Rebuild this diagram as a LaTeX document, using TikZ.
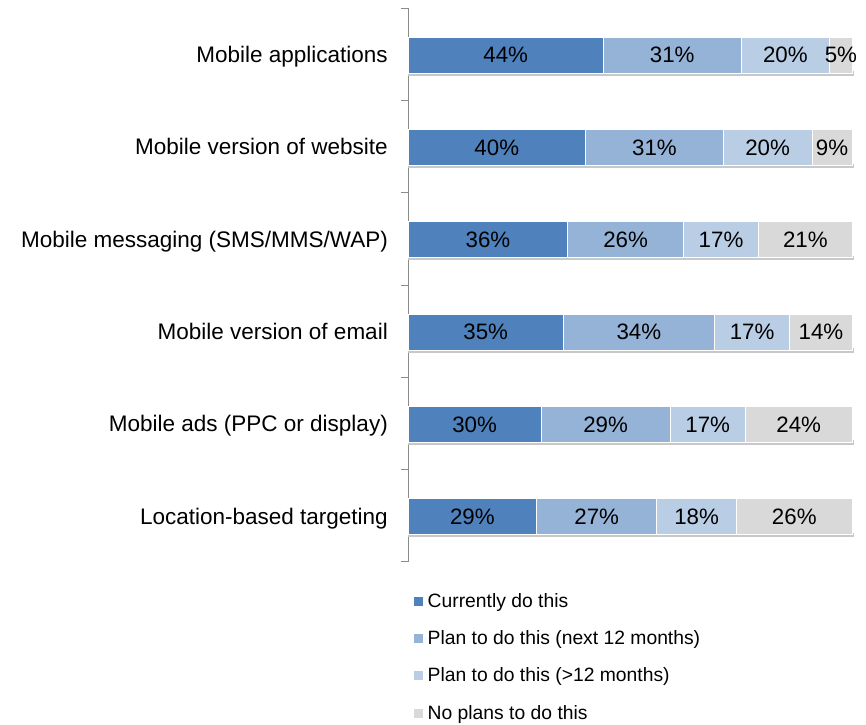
\documentclass[tikz,border=0pt]{standalone}
\usepackage{fontspec}
\setmainfont{Liberation Sans}
\definecolor{cA}{HTML}{4F81BD}
\definecolor{cB}{HTML}{95B3D7}
\definecolor{cC}{HTML}{B9CDE5}
\definecolor{cD}{HTML}{D9D9D9}
\definecolor{axisgray}{HTML}{8C8C8C}
\definecolor{shadowc}{HTML}{C8C8C8}
\tikzset{
  seg/.style={draw=white,line width=0.8pt},
  pct/.style={anchor=base,inner sep=0pt,font=\fontsize{22.3}{26}\selectfont,text=black},
  cat/.style={anchor=base east,inner sep=0pt,font=\fontsize{22.5}{26}\selectfont,text=black},
  leg/.style={anchor=base west,inner sep=0pt,font=\fontsize{19.3}{23}\selectfont,text=black},
  legbox/.style={minimum size=9pt,inner sep=0pt,draw=none},
  axisline/.style={draw=axisgray,line width=1pt},
}
\newcommand\chartrow[6]{%
  \pgfmathsetmacro\yc{8+92.33*(#1-0.5)+1}
  \pgfmathsetmacro\xa{408}
  \pgfmathsetmacro\xb{\xa+4.44*#3}
  \pgfmathsetmacro\xc{\xb+4.44*#4}
  \pgfmathsetmacro\xd{\xc+4.44*#5}
  \pgfmathsetmacro\xe{\xd+4.44*#6}
  \fill[shadowc] (\xa,\yc+16) rectangle (\xe+1.5,\yc+20.5);
  \filldraw[seg,fill=cA] (\xa,\yc-18) rectangle (\xb,\yc+18);
  \filldraw[seg,fill=cB] (\xb,\yc-18) rectangle (\xc,\yc+18);
  \filldraw[seg,fill=cC] (\xc,\yc-18) rectangle (\xd,\yc+18);
  \filldraw[seg,fill=cD] (\xd,\yc-18) rectangle (\xe,\yc+18);
  \node[pct] (r#1a) at ({(\xa+\xb)/2},\yc+7.8) {#3\%};
  \node[pct] (r#1b) at ({(\xb+\xc)/2},\yc+7.8) {#4\%};
  \node[pct] (r#1c) at ({(\xc+\xd)/2},\yc+7.8) {#5\%};
  \node[pct] (r#1d) at ({(\xd+\xe)/2},\yc+7.8) {#6\%};
  \node[cat] (lab#1) at (388,\yc+7.3) {#2};
}
\begin{document}
\begin{tikzpicture}[x=1pt,y=-1pt]
\useasboundingbox (0,0) rectangle (866,724);
\fill[white] (0,0) rectangle (866,724);
% axis
\coordinate (axtop) at (408,8);
\coordinate (axbot) at (408,562);
\draw[axisline] (axtop) -- (axbot);
\foreach \i in {0,...,6}{
  \coordinate (tk\i) at (408,{8+92.33*\i});
  \coordinate (tl\i) at (401,{8+92.33*\i});
  \draw[axisline] (tl\i) -- (tk\i);
}
\chartrow{1}{Mobile applications}{44}{31}{20}{5}
\chartrow{2}{Mobile version of website}{40}{31}{20}{9}
\chartrow{3}{Mobile messaging (SMS/MMS/WAP)}{36}{26}{17}{21}
\chartrow{4}{Mobile version of email}{35}{34}{17}{14}
\chartrow{5}{Mobile ads (PPC or display)}{30}{29}{17}{24}
\chartrow{6}{Location-based targeting}{29}{27}{18}{26}
% legend
\node[legbox,fill=cA] (lgA) at (418.5,601) {};
\node[legbox,fill=cB] (lgB) at (418.5,638) {};
\node[legbox,fill=cC] (lgC) at (418.5,675) {};
\node[legbox,fill=cD] (lgD) at (418.5,713) {};
\node[leg] (ltA) at (427.5,607) {Currently do this};
\node[leg] (ltB) at (427.5,644.5) {Plan to do this (next 12 months)};
\node[leg] (ltC) at (427.5,681.5) {Plan to do this (>12 months)};
\node[leg] (ltD) at (427.5,719) {No plans to do this};
\end{tikzpicture}
\end{document}
